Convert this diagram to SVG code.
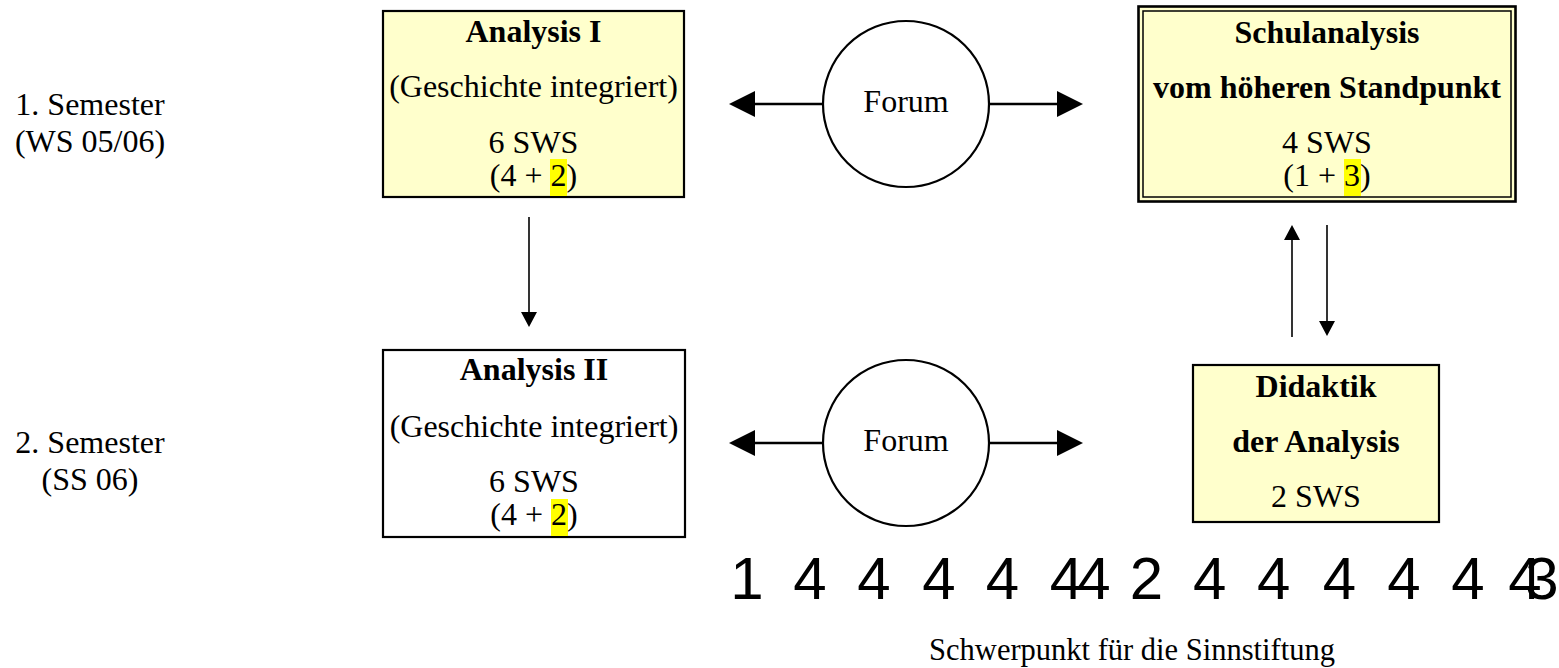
<svg xmlns="http://www.w3.org/2000/svg" width="1559" height="668" viewBox="0 0 1559 668">
<style>
  .t { font-family: "Liberation Serif", "Times New Roman", serif; font-size: 32px; fill: #000; text-anchor: middle; }
  .b { font-weight: bold; }
  .box { fill: #FFFFCC; stroke: #000; stroke-width: 2.2; }
  .wbox { fill: #FFFFFF; stroke: #000; stroke-width: 2.2; }
  .hl { fill: #FFFF00; }
  .big { stroke: #000; stroke-width: 2.5; fill: none; marker-end: url(#bigHead); }
  .small { stroke: #000; stroke-width: 1.6; fill: none; marker-end: url(#smallHead); }
  .circ { fill: #FFFFFF; stroke: #000; stroke-width: 2.2; }
  .brace { font-family: "Liberation Sans", Arial, sans-serif; font-size: 60px; fill: #000; text-anchor: middle; }
</style>
<defs>
  <marker id="bigHead" markerUnits="userSpaceOnUse" viewBox="0 0 26 26" markerWidth="26" markerHeight="26" refX="0" refY="13" orient="auto">
    <path d="M0,0 L26,13 L0,26 z" fill="#000"/>
  </marker>
  <marker id="smallHead" markerUnits="userSpaceOnUse" viewBox="0 0 15 16" markerWidth="15" markerHeight="16" refX="0" refY="8" orient="auto">
    <path d="M0,0 L15,8 L0,16 z" fill="#000"/>
  </marker>
</defs>
<rect width="1559" height="668" fill="#FFFFFF"/>

<g id="label-sem1">
  <text class="t" x="90" y="115">1. Semester</text>
  <text class="t" x="90" y="152">(WS 05/06)</text>
</g>
<g id="label-sem2">
  <text class="t" x="90" y="453">2. Semester</text>
  <text class="t" x="90" y="490">(SS 06)</text>
</g>

<g id="analysis1">
  <rect class="box" x="383" y="11" width="301" height="186"/>
  <rect class="hl" x="550" y="159" width="17" height="37"/>
  <text class="t b" x="533.5" y="42">Analysis I</text>
  <text class="t" x="533.5" y="97">(Geschichte integriert)</text>
  <text class="t" x="533.5" y="153">6 SWS</text>
  <text class="t" x="533.5" y="186">(4 + 2)</text>
</g>

<g id="analysis2">
  <rect class="wbox" x="383" y="350" width="302" height="187"/>
  <rect class="hl" x="551" y="499" width="17" height="37"/>
  <text class="t b" x="534" y="380">Analysis II</text>
  <text class="t" x="534" y="437">(Geschichte integriert)</text>
  <text class="t" x="534" y="492">6 SWS</text>
  <text class="t" x="534" y="525">(4 + 2)</text>
</g>

<g id="forum1">
  <circle class="circ" cx="906" cy="104" r="83"/>
  <text class="t" x="906" y="112">Forum</text>
</g>
<g id="forum2">
  <circle class="circ" cx="906" cy="443" r="83"/>
  <text class="t" x="906" y="451">Forum</text>
</g>

<g id="schulanalysis">
  <rect x="1138.5" y="6.5" width="377" height="195" fill="#FFFFCC" stroke="#000" stroke-width="2.6"/>
  <rect x="1143" y="11" width="368" height="186" fill="#FFFFCC" stroke="#000" stroke-width="1.5"/>
  <rect class="hl" x="1344" y="159" width="17" height="37"/>
  <text class="t b" x="1327" y="43">Schulanalysis</text>
  <text class="t b" x="1327" y="98">vom höheren Standpunkt</text>
  <text class="t" x="1327" y="153">4 SWS</text>
  <text class="t" x="1327" y="186">(1 + 3)</text>
</g>

<g id="didaktik">
  <rect class="box" x="1193" y="365" width="246" height="157"/>
  <text class="t b" x="1316" y="397">Didaktik</text>
  <text class="t b" x="1316" y="452">der Analysis</text>
  <text class="t" x="1316" y="507">2 SWS</text>
</g>

<g id="connectors">
  <line class="big" x1="823" y1="104" x2="755" y2="104"/>
  <line class="big" x1="989" y1="104" x2="1057" y2="104"/>
  <line class="big" x1="823" y1="443" x2="755" y2="443"/>
  <line class="big" x1="989" y1="443" x2="1057" y2="443"/>
  <line class="small" x1="529" y1="217" x2="529" y2="312"/>
  <line class="small" x1="1292" y1="337" x2="1292" y2="240"/>
  <line class="small" x1="1327" y1="225" x2="1327" y2="321"/>
</g>

<g id="brace">
  <text class="brace" x="747 778 810 842 874 906 939 970 1002.5 1034 1066.5 1094 1120 1146.5 1178 1209.8 1242 1273.7 1306 1339.4 1372 1404 1436 1468 1496 1525 1542" y="599">1 4 4 4 4 44 2 4 4 4 4 4 43</text>
</g>

<g id="caption">
  <text class="t" x="1132" y="660" style="font-size:30.5px">Schwerpunkt für die Sinnstiftung</text>
</g>
</svg>
